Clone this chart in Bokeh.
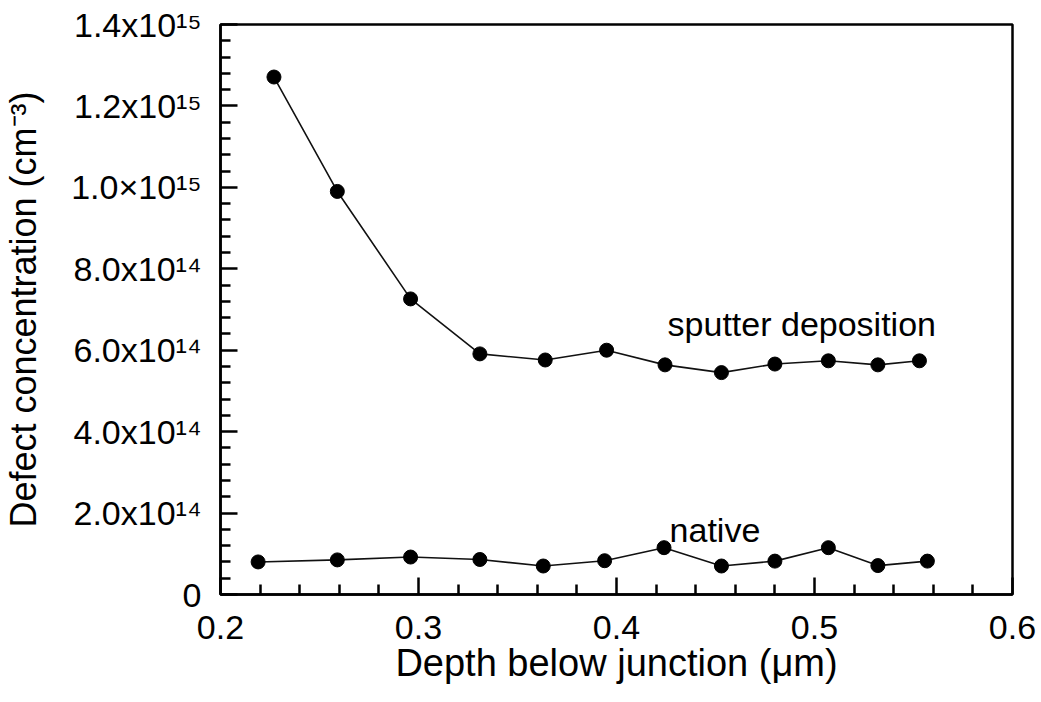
from bokeh.plotting import figure
from bokeh.models import FixedTicker, Range1d, Label
from bokeh.embed import file_html
from bokeh.resources import INLINE

# ---- data ----
sputter_depth = [0.227, 0.259, 0.296, 0.331, 0.364, 0.395, 0.4245, 0.453, 0.480, 0.507, 0.532, 0.553]
sputter_conc = [1.271e15, 0.990e15, 0.726e15, 0.591e15, 0.576e15, 0.600e15,
                0.564e15, 0.545e15, 0.566e15, 0.574e15, 0.564e15, 0.574e15]

native_depth = [0.219, 0.259, 0.296, 0.331, 0.363, 0.394, 0.424, 0.453, 0.480, 0.507, 0.532, 0.557]
native_conc = [8.0e13, 8.5e13, 9.2e13, 8.6e13, 7.0e13, 8.3e13,
               1.15e14, 7.0e13, 8.2e13, 1.15e14, 7.1e13, 8.2e13]

x_ticks = [0.2, 0.3, 0.4, 0.5, 0.6]
x_tick_labels = ["0.2", "0.3", "0.4", "0.5", "0.6"]
x_minor = [0.22, 0.24, 0.26, 0.28, 0.32, 0.34, 0.36, 0.38, 0.42, 0.44, 0.46, 0.48,
           0.52, 0.54, 0.56, 0.58]

y_ticks = [0, 2e14, 4e14, 6e14, 8e14, 1.0e15, 1.2e15, 1.4e15]
y_tick_labels = ["0", "2.0x10\u00b9\u2074", "4.0x10\u00b9\u2074", "6.0x10\u00b9\u2074",
                 "8.0x10\u00b9\u2074", "1.0\u00d710\u00b9\u2075", "1.2x10\u00b9\u2075",
                 "1.4x10\u00b9\u2075"]
y_minor = [k * 4e13 for k in range(1, 35) if k % 5 != 0]

FONT = "Liberation Sans"

p = figure(width=1041, height=702, output_backend="svg", toolbar_location=None,
           x_range=Range1d(0.2, 0.6), y_range=Range1d(0, 1.4e15),
           min_border_left=219, min_border_right=29, min_border_top=24, min_border_bottom=108)
p.background_fill_color = "white"
p.border_fill_color = "white"
p.xgrid.visible = False
p.ygrid.visible = False
p.outline_line_color = "black"
p.outline_line_width = 2.5

for ax in (p.xaxis[0], p.yaxis[0]):
    ax.axis_line_width = 2.5
    ax.axis_line_color = "black"
    ax.major_tick_in = 17
    ax.major_tick_out = 0
    ax.minor_tick_in = 10
    ax.minor_tick_out = 0
    ax.major_tick_line_width = 2.5
    ax.minor_tick_line_width = 2.5
    ax.major_tick_line_color = "black"
    ax.minor_tick_line_color = "black"
    ax.axis_label_text_font = FONT
    ax.axis_label_text_font_style = "normal"
    ax.axis_label_text_color = "black"
    ax.major_label_text_font = FONT
    ax.major_label_text_font_size = "34px"
    ax.major_label_text_color = "black"

p.xaxis.ticker = FixedTicker(ticks=x_ticks, minor_ticks=x_minor)
p.xaxis.major_label_overrides = {t: l for t, l in zip(x_ticks, x_tick_labels)}
p.xaxis.major_label_standoff = 21
p.xaxis.axis_label = "Depth below junction (\u03bcm)"
p.xaxis.axis_label_text_font_size = "38px"
p.xaxis.axis_label_standoff = 0

p.yaxis.ticker = FixedTicker(ticks=y_ticks, minor_ticks=y_minor)
p.yaxis.major_label_overrides = {t: l for t, l in zip(y_ticks, y_tick_labels)}
p.yaxis.major_label_standoff = 19
p.yaxis.axis_label = "Defect concentration (cm\u207b\u00b3)"
p.yaxis.axis_label_text_font_size = "36px"
p.yaxis.axis_label_standoff = 24

# series
p.line(sputter_depth, sputter_conc, line_color="#111111", line_width=1.6)
p.scatter(sputter_depth, sputter_conc, marker="circle", size=14, color="black")
p.line(native_depth, native_conc, line_color="#111111", line_width=1.6)
p.scatter(native_depth, native_conc, marker="circle", size=14, color="black")

p.add_layout(Label(x=0.4258, y=7.10e14, text="sputter deposition", text_font=FONT,
                   text_font_size="34px", text_baseline="top", text_color="black"))
p.add_layout(Label(x=0.4268, y=2.06e14, text="native", text_font=FONT,
                   text_font_size="34px", text_baseline="top", text_color="black"))

open("out.html", "w").write(file_html(p, INLINE))
